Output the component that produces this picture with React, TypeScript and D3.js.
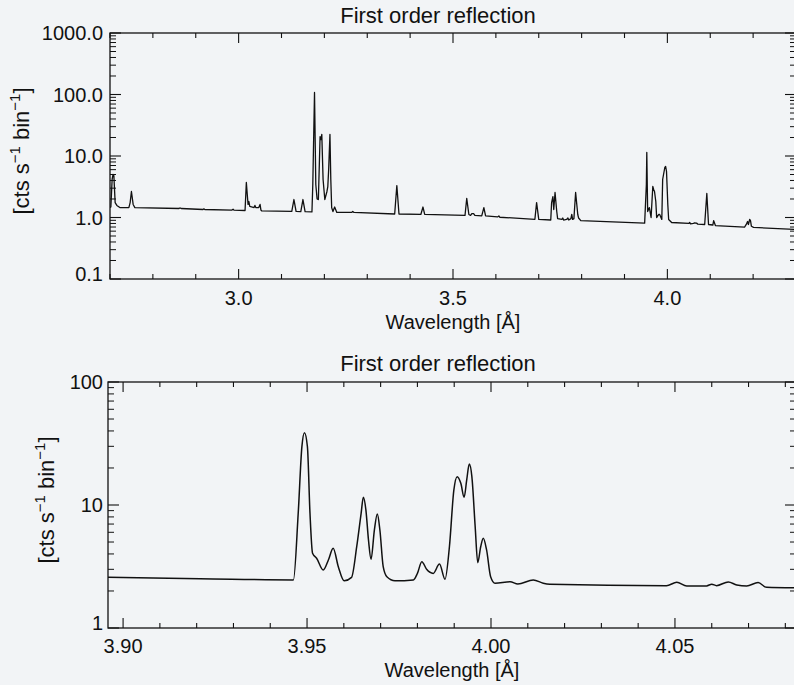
import React from "react";
import { scaleLinear, scaleLog, line, curveLinear, curveMonotoneX, range } from "d3";

const svgWidth = 794;
const svgHeight = 685;
const bgColor = "#f2f4f6";
const fontFamily = "'Liberation Sans', Arial, Helvetica, sans-serif";

// top panel: wide spectrum 2.7 - 4.3 A
const topWl = [
  2.7, 2.702, 2.705, 2.707, 2.709, 2.712, 2.716, 2.723, 2.744, 2.747, 2.75, 2.754, 2.758,
  2.861, 2.863, 2.866, 2.917, 2.919, 2.921, 2.984, 2.987, 2.989,
  3.015, 3.018, 3.022, 3.024, 3.026, 3.036, 3.038, 3.04, 3.047, 3.05, 3.052, 3.054,
  3.124, 3.129, 3.134, 3.145, 3.15, 3.155,
  3.171, 3.173, 3.177, 3.18, 3.183, 3.186, 3.19, 3.192, 3.194, 3.197, 3.201, 3.206, 3.208,
  3.21, 3.213, 3.215, 3.217, 3.22, 3.224, 3.229, 3.264, 3.266, 3.269,
  3.364, 3.369, 3.374, 3.425, 3.43, 3.434,
  3.528, 3.532, 3.537, 3.541, 3.544, 3.548, 3.551, 3.567, 3.572, 3.576, 3.604, 3.607, 3.609,
  3.691, 3.695, 3.7, 3.728, 3.73, 3.733, 3.735, 3.738, 3.742, 3.744, 3.754, 3.756, 3.758,
  3.765, 3.768, 3.77, 3.775, 3.777, 3.779, 3.782, 3.786, 3.791, 3.793, 3.798,
  3.947, 3.951, 3.952, 3.954, 3.958, 3.962, 3.966, 3.968, 3.97, 3.973, 3.975, 3.98, 3.982,
  3.987, 3.989, 3.994, 3.996, 3.998, 4.001, 4.003, 4.01,
  4.05, 4.052, 4.054, 4.061, 4.063, 4.068, 4.071, 4.087, 4.092, 4.096, 4.106, 4.108, 4.112,
  4.18, 4.184, 4.187, 4.189, 4.192, 4.194, 4.196, 4.201, 4.301,
];
const topCts = [
  1.45, 1.48, 4.2, 5.0, 4.8, 1.75, 1.57, 1.45, 1.45, 1.75, 2.65, 1.63, 1.45,
  1.4, 1.43, 1.4, 1.35, 1.38, 1.35, 1.32, 1.36, 1.32,
  1.3, 3.71, 1.63, 1.82, 1.51, 1.45, 1.57, 1.45, 1.45, 1.63, 1.32, 1.28,
  1.26, 1.96, 1.26, 1.25, 1.96, 1.25,
  1.23, 3.44, 108, 3.44, 2.0, 1.96, 20.7, 18.5, 22.4, 4.15, 1.96, 2.65, 3.19,
  6.0, 22.4, 4.15, 1.45, 1.25, 1.48, 1.21, 1.21, 1.25, 1.21,
  1.14, 3.31, 1.14, 1.12, 1.48, 1.12,
  1.08, 2.04, 1.12, 1.08, 1.16, 1.16, 1.08, 1.06, 1.45, 1.06, 1.02, 1.06, 1.01,
  0.935, 1.75, 0.93, 0.91, 1.75, 2.19, 1.35, 2.55, 1.25, 0.96, 0.93, 0.98, 0.91,
  0.93, 0.98, 0.91, 0.96, 1.12, 0.93, 0.96, 2.55, 1.12, 0.98, 0.89,
  0.81, 3.44, 11.4, 1.25, 1.45, 1.0, 3.19, 2.85, 2.65, 1.82, 1.0, 1.12, 1.12,
  0.93, 4.15, 6.5, 6.75, 5.6, 1.63, 0.93, 0.83,
  0.8, 0.83, 0.79, 0.8, 0.82, 0.81, 0.78, 0.77, 2.46, 0.77, 0.755, 0.89, 0.74,
  0.7, 0.77, 0.86, 0.77, 0.93, 0.88, 0.72, 0.69, 0.638,
];

// bottom panel: zoom on 3.9 - 4.08 A
const botWl = [
  3.8959, 3.9209, 3.9463, 3.9476, 3.9486, 3.9493, 3.9501, 3.9508, 3.9515, 3.9526, 3.9544,
  3.9558, 3.9571, 3.9585, 3.9601, 3.9621, 3.9635, 3.9647, 3.9653, 3.966, 3.9667, 3.9674,
  3.9683, 3.9691, 3.9698, 3.9707, 3.9717, 3.9739, 3.9789, 3.98, 3.9812, 3.9825, 3.9843,
  3.986, 3.9875, 3.9887, 3.9899, 3.9908, 3.9918, 3.9927, 3.9934, 3.9941, 3.9948, 3.9957,
  3.9964, 3.9972, 3.9979, 3.9988, 3.9999, 4.0011, 4.0052, 4.0073, 4.0115, 4.0142, 4.016,
  4.0477, 4.0505, 4.0532, 4.0586, 4.06, 4.0613, 4.0645, 4.0668, 4.0695, 4.0726, 4.0749,
  4.0829,
];
const botCts = [
  2.58, 2.52, 2.46, 8.56, 29.8, 38.7, 29.8, 8.56, 4.05, 3.69, 2.96,
  3.57, 4.45, 3.15, 2.42, 2.58, 4.58, 8.56, 11.55, 9.1, 5.19, 3.62,
  6.26, 8.45, 6.26, 3.15, 2.61, 2.42, 2.46, 2.78, 3.46, 3.0, 2.78,
  3.31, 2.49, 4.58, 13.2, 17.0, 15.0, 11.55, 16.0, 21.5, 17.0, 6.66,
  3.4, 4.58, 5.36, 4.31, 2.61, 2.31, 2.38, 2.28, 2.46, 2.31, 2.27,
  2.21, 2.35, 2.2, 2.2, 2.27, 2.21, 2.37, 2.24, 2.2, 2.34, 2.14,
  2.12,
];

const topXMajor = [3.0, 3.5, 4.0];
const topXLabels = ["3.0", "3.5", "4.0"];
const topYMajor = [0.1, 1, 10, 100, 1000];
const topYLabels = ["0.1", "1.0", "10.0", "100.0", "1000.0"];
const botXMajor = [3.9, 3.95, 4.0, 4.05];
const botXLabels = ["3.90", "3.95", "4.00", "4.05"];
const botYMajor = [1, 10, 100];
const botYLabels = ["1", "10", "100"];

const title = "First order reflection";
const xTitle = "Wavelength [Å]";

const panels = [
  {
    key: "top",
    box: { left: 110, right: 796, top: 33, bottom: 279 },
    xDomain: [2.7, 4.3],
    xMinorStep: 0.1,
    yDomain: [0.1, 1000],
    wl: topWl,
    cts: topCts,
    xMajor: topXMajor,
    xLabels: topXLabels,
    yMajor: topYMajor,
    yLabels: topYLabels,
    curve: curveLinear,
    strokeWidth: 1.3,
    titleY: 23,
    tickLabelY: 305,
    xTitleY: 329,
    yTitleX: 22,
  },
  {
    key: "bottom",
    box: { left: 108, right: 796, top: 382, bottom: 628 },
    xDomain: [3.8959, 4.0829],
    xMinorStep: 0.01,
    yDomain: [1, 100],
    wl: botWl,
    cts: botCts,
    xMajor: botXMajor,
    xLabels: botXLabels,
    yMajor: botYMajor,
    yLabels: botYLabels,
    curve: curveMonotoneX,
    strokeWidth: 1.5,
    titleY: 371,
    tickLabelY: 653,
    xTitleY: 677,
    yTitleX: 47,
  },
];

const majorLen = 10;
const minorLen = 5;

function Panel({ p }) {
  const { box } = p;
  const xScale = scaleLinear().domain(p.xDomain).range([box.left, box.right]);
  const yScale = scaleLog().domain(p.yDomain).range([box.bottom, box.top]);
  const path = line()
    .x((d) => xScale(d[0]))
    .y((d) => yScale(d[1]))
    .curve(p.curve);
  const points = p.wl.map((w, i) => [w, p.cts[i]]);

  const lo = Math.ceil(p.xDomain[0] / p.xMinorStep - 1e-6);
  const hi = Math.floor(p.xDomain[1] / p.xMinorStep + 1e-6);
  const xMinor = range(lo, hi + 1).map((k) => k * p.xMinorStep);

  const yMinor = [];
  p.yMajor.slice(0, -1).forEach((dec) => {
    for (let m = 2; m <= 9; m++) yMinor.push(dec * m);
  });

  const clipId = `clip-${p.key}`;
  const yMid = (box.top + box.bottom) / 2;
  const xMid = (box.left + box.right) / 2;

  return (
    <g>
      <defs>
        <clipPath id={clipId}>
          <rect x={box.left} y={box.top} width={box.right - box.left} height={box.bottom - box.top} />
        </clipPath>
      </defs>
      <text x={438} y={p.titleY} textAnchor="middle" fontSize={22}>
        {title}
      </text>
      <path
        d={path(points)}
        fill="none"
        stroke="#111"
        strokeWidth={p.strokeWidth}
        strokeLinejoin="round"
        clipPath={`url(#${clipId})`}
      />
      <rect
        x={box.left}
        y={box.top}
        width={box.right - box.left}
        height={box.bottom - box.top}
        fill="none"
        stroke="#111"
        strokeWidth={1.3}
      />
      {xMinor.map((t, i) => {
        const isMajor = p.xMajor.some((m) => Math.abs(m - t) < 1e-6);
        const len = isMajor ? majorLen : minorLen;
        const x = xScale(t);
        return (
          <g key={`xt${i}`} stroke="#111" strokeWidth={1.1}>
            <line x1={x} x2={x} y1={box.bottom} y2={box.bottom - len} />
            <line x1={x} x2={x} y1={box.top} y2={box.top + len} />
          </g>
        );
      })}
      {p.yMajor.map((t, i) => {
        const y = yScale(t);
        return (
          <g key={`yt${i}`} stroke="#111" strokeWidth={1.1}>
            <line x1={box.left} x2={box.left + 11} y1={y} y2={y} />
            <line x1={box.right} x2={box.right - 11} y1={y} y2={y} />
          </g>
        );
      })}
      {yMinor.map((t, i) => {
        const y = yScale(t);
        return (
          <g key={`ym${i}`} stroke="#111" strokeWidth={1}>
            <line x1={box.left} x2={box.left + 6} y1={y} y2={y} />
            <line x1={box.right} x2={box.right - 6} y1={y} y2={y} />
          </g>
        );
      })}
      {p.xMajor.map((t, i) => (
        <text key={`xl${i}`} x={xScale(t)} y={p.tickLabelY} textAnchor="middle" fontSize={20}>
          {p.xLabels[i]}
        </text>
      ))}
      {p.yMajor.map((t, i) => {
        const y = yScale(t);
        const shift = i === 0 ? -5 : 0;
        return (
          <text key={`yl${i}`} x={103} y={y + 7 + shift} textAnchor="end" fontSize={20}>
            {p.yLabels[i]}
          </text>
        );
      })}
      <text x={xMid} y={p.xTitleY} textAnchor="middle" fontSize={20}>
        {xTitle}
      </text>
      <text
        transform={`translate(${p.yTitleX + 7},${yMid - 5}) rotate(-90)`}
        textAnchor="middle"
        fontSize={22}
      >
        [cts s
        <tspan fontSize={15} dy={-9}>
          −1
        </tspan>
        <tspan dy={9}> bin</tspan>
        <tspan fontSize={15} dy={-9}>
          −1
        </tspan>
        <tspan dy={9}>]</tspan>
      </text>
    </g>
  );
}

export default function App() {
  return (
    <svg
      width={svgWidth}
      height={svgHeight}
      style={{ position: "absolute", left: 0, top: 0 }}
      fontFamily={fontFamily}
      fill="#111"
    >
      <rect width={svgWidth} height={svgHeight} fill={bgColor} />
      {panels.map((p) => (
        <Panel key={p.key} p={p} />
      ))}
    </svg>
  );
}
